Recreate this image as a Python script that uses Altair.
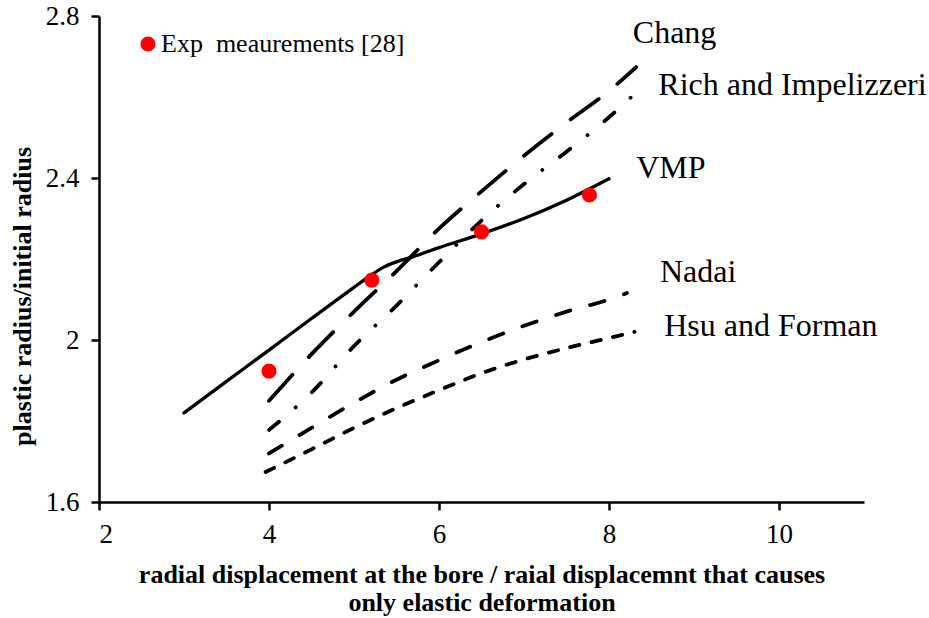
import altair as alt
import pandas as pd

# ---- data ----
vmp_x = [3.0, 3.5, 4.0, 4.5, 5.0, 5.2, 5.35, 5.5, 5.7, 6.0, 6.5, 7.0, 7.5, 8.0]
vmp_y = [1.82, 1.898, 1.975, 2.053, 2.13, 2.16, 2.18, 2.193, 2.206, 2.228, 2.262, 2.30, 2.345, 2.398]

chang_x = [4.0, 4.5, 5.0, 5.5, 6.0, 6.5, 7.0, 7.5, 8.0, 8.32]
chang_y = [1.85, 1.965, 2.07, 2.17, 2.275, 2.367, 2.455, 2.537, 2.615, 2.674]

rich_x = [4.0, 4.5, 5.0, 5.5, 6.0, 6.5, 7.0, 7.5, 8.0, 8.4]
rich_y = [1.778, 1.87, 1.985, 2.085, 2.192, 2.295, 2.385, 2.465, 2.55, 2.627]

nadai_x = [4.0, 4.5, 5.0, 5.5, 6.0, 6.5, 7.0, 7.5, 8.0, 8.21]
nadai_y = [1.72, 1.783, 1.845, 1.902, 1.95, 1.995, 2.035, 2.07, 2.10, 2.116]

hsu_x = [3.96, 4.5, 5.0, 5.5, 6.0, 6.5, 7.0, 7.5, 8.0, 8.3]
hsu_y = [1.674, 1.73, 1.783, 1.832, 1.876, 1.918, 1.952, 1.98, 2.005, 2.02]

exp_x = [4.0, 5.21, 6.5, 7.77]
exp_y = [1.923, 2.148, 2.267, 2.358]
exp_name = "Exp \u00a0meaurements [28]"

label_text = ["Chang", "Rich and Impelizzeri", "VMP", "Nadai", "Hsu and Forman"]
label_x = [8.28, 8.58, 8.32, 8.6, 8.65]
label_y = [2.758, 2.63, 2.425, 2.168, 2.035]

x_ticks = [2, 4, 6, 8, 10]
y_ticks = [1.6, 2.0, 2.4, 2.8]

x_title = ["radial displacement at the bore / raial displacemnt that causes",
           "only elastic deformation"]
y_title = "plastic radius/initial radius"

FONT = "Liberation Serif"

xscale = alt.Scale(domain=[2, 11], nice=False, zero=False)
yscale = alt.Scale(domain=[1.6, 2.8], nice=False, zero=False)

xaxis = alt.Axis(values=x_ticks, format="d", title=x_title, grid=False,
                 labelPadding=11, titleBaseline="alphabetic", titleY=80,
                 titleLineHeight=28)
yaxis = alt.Axis(values=y_ticks, format="~g", title=y_title, grid=False,
                 labelPadding=12, titleBaseline="middle", titleX=-77, titleY=280,
                 titleAngle=-90)

X = alt.X("x:Q", scale=xscale, axis=xaxis)
Y = alt.Y("y:Q", scale=yscale, axis=yaxis)


def line(xs, ys, dash, width=3.8):
    df = pd.DataFrame({"x": xs, "y": ys})
    kw = dict(color="black", strokeWidth=width, strokeCap="round", strokeJoin="round",
              interpolate="monotone")
    if dash:
        kw["strokeDash"] = dash
    return alt.Chart(df).mark_line(**kw).encode(x=X, y=Y)


vmp = line(vmp_x, vmp_y, None, 3.3)
chang = line(chang_x, chang_y, [35, 24])
rich = line(rich_x, rich_y, [13, 22, 0.1, 22])
nadai = line(nadai_x, nadai_y, [15, 20.5])
hsu = line(hsu_x, hsu_y, [9.5, 12.5])

exp_df = pd.DataFrame({"x": exp_x, "y": exp_y, "s": [exp_name] * len(exp_x)})
points = alt.Chart(exp_df).mark_circle(size=230, opacity=1).encode(
    x=X, y=Y,
    color=alt.Color("s:N", scale=alt.Scale(domain=[exp_name], range=["#ff0000"]),
                    legend=alt.Legend(orient="none", legendX=36, legendY=15, title=None,
                                      padding=0, labelFont=FONT, labelFontSize=26,
                                      labelColor="black", labelLimit=500,
                                      symbolType="circle", symbolSize=230,
                                      symbolStrokeWidth=0, labelOffset=0)),
)

lab_df = pd.DataFrame({"x": label_x, "y": label_y, "t": label_text})
labels = alt.Chart(lab_df).mark_text(align="left", baseline="middle", font=FONT,
                                     fontSize=32, color="black").encode(
    x=X, y=Y, text="t:N")

chart = alt.layer(vmp, chang, rich, nadai, hsu, points, labels).properties(
    width=765, height=486,
    autosize=alt.AutoSizeParams(type="none"),
    padding={"left": 99, "top": 16, "right": 65, "bottom": 116},
).configure(background="white", font=FONT).configure_view(stroke=None).configure_axis(
    labelFont=FONT, labelFontSize=27, labelColor="black",
    domainColor="black", domainWidth=2.5, tickColor="black", tickWidth=2.5, tickSize=8,
    titleFont=FONT, titleFontSize=26, titleFontWeight="bold", titleColor="black",
).configure_legend(labelFont=FONT)

chart.save("out.html", embed_options={"renderer": "svg", "actions": False})
